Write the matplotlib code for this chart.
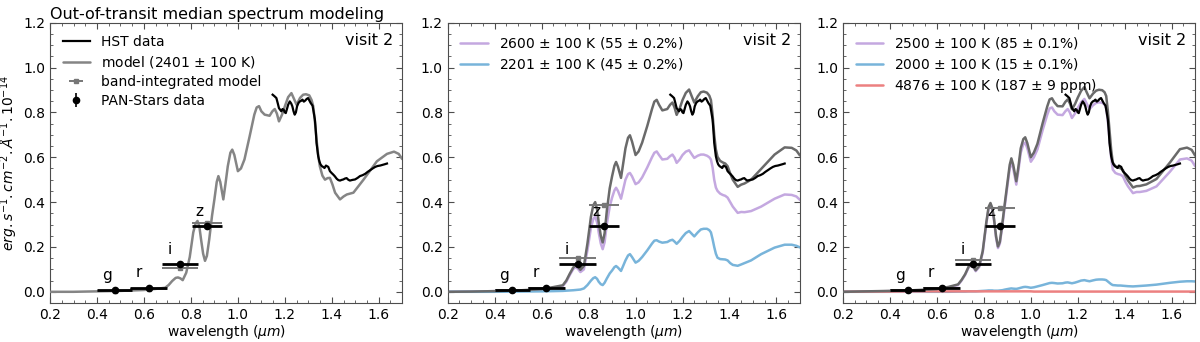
import numpy as np
import matplotlib
matplotlib.use("Agg")
import matplotlib.pyplot as plt
from matplotlib.ticker import MultipleLocator

# wavelength grid of the model spectra (micron)
wave = [0.20, 0.30, 0.40, 0.50, 0.60, 0.65, 0.69, 0.705, 0.72,
        0.735, 0.745, 0.755, 0.765, 0.78, 0.795, 0.81, 0.820, 0.828,
        0.836, 0.843, 0.852, 0.86, 0.868, 0.878, 0.89, 0.90, 0.910,
        0.917, 0.925, 0.938, 0.947, 0.957, 0.968, 0.976, 0.985, 1.00,
        1.013, 1.028, 1.05, 1.07, 1.08, 1.09, 1.10, 1.114, 1.135,
        1.147, 1.157, 1.166, 1.175, 1.188, 1.20, 1.214, 1.228, 1.24,
        1.25, 1.265, 1.278, 1.29, 1.304, 1.314, 1.321, 1.328, 1.335,
        1.342, 1.349, 1.36, 1.371, 1.382, 1.392, 1.403, 1.414, 1.435,
        1.45, 1.464, 1.492, 1.535, 1.592, 1.635, 1.665, 1.685, 1.70]

# panel 1: single temperature model
model_2401 = [0.000, 0.000, 0.002, 0.004, 0.008, 0.013, 0.018, 0.030, 0.048,
              0.062, 0.064, 0.060, 0.052, 0.085, 0.155, 0.265, 0.305, 0.316,
              0.290, 0.235, 0.170, 0.138, 0.160, 0.234, 0.340, 0.412, 0.490,
              0.516, 0.490, 0.412, 0.480, 0.560, 0.620, 0.634, 0.610, 0.538,
              0.550, 0.590, 0.693, 0.790, 0.822, 0.828, 0.805, 0.790, 0.785,
              0.805, 0.815, 0.795, 0.760, 0.790, 0.827, 0.868, 0.886, 0.858,
              0.834, 0.865, 0.879, 0.881, 0.876, 0.855, 0.827, 0.760, 0.679,
              0.610, 0.560, 0.518, 0.500, 0.507, 0.508, 0.478, 0.442, 0.412,
              0.425, 0.434, 0.442, 0.500, 0.582, 0.615, 0.625, 0.615, 0.592]

# panel 2: two components
p2_hot = [0.000, 0.001, 0.003, 0.005, 0.010, 0.018, 0.025, 0.045, 0.075,
          0.102, 0.110, 0.102, 0.088, 0.100, 0.185, 0.285, 0.325, 0.335,
          0.310, 0.265, 0.215, 0.190, 0.220, 0.305, 0.380, 0.420, 0.452,
          0.464, 0.450, 0.415, 0.455, 0.500, 0.525, 0.530, 0.515, 0.480,
          0.488, 0.510, 0.555, 0.600, 0.620, 0.626, 0.610, 0.590, 0.593,
          0.605, 0.612, 0.598, 0.575, 0.590, 0.610, 0.625, 0.631, 0.612,
          0.597, 0.607, 0.612, 0.612, 0.607, 0.600, 0.590, 0.555, 0.500,
          0.465, 0.450, 0.438, 0.432, 0.428, 0.420, 0.400, 0.380, 0.352,
          0.356, 0.355, 0.360, 0.380, 0.415, 0.434, 0.432, 0.425, 0.410]
p2_cool = [0.000, 0.000, 0.000, 0.001, 0.002, 0.003, 0.004, 0.005, 0.006,
           0.007, 0.008, 0.009, 0.010, 0.015, 0.030, 0.050, 0.061, 0.065,
           0.058, 0.045, 0.034, 0.030, 0.040, 0.060, 0.082, 0.095, 0.110,
           0.115, 0.108, 0.093, 0.115, 0.140, 0.162, 0.168, 0.155, 0.130,
           0.138, 0.155, 0.185, 0.215, 0.228, 0.230, 0.224, 0.219, 0.222,
           0.229, 0.232, 0.224, 0.214, 0.228, 0.245, 0.262, 0.271, 0.258,
           0.247, 0.265, 0.278, 0.281, 0.281, 0.275, 0.265, 0.235, 0.200,
           0.170, 0.152, 0.146, 0.145, 0.144, 0.140, 0.128, 0.120, 0.116,
           0.122, 0.128, 0.140, 0.168, 0.197, 0.210, 0.210, 0.205, 0.198]

# panel 3: three components
p3_hot = [0.000, 0.001, 0.003, 0.005, 0.010, 0.020, 0.030, 0.050, 0.075,
          0.108, 0.120, 0.110, 0.092, 0.110, 0.175, 0.300, 0.370, 0.388,
          0.365, 0.320, 0.240, 0.195, 0.215, 0.290, 0.390, 0.470, 0.550,
          0.578, 0.550, 0.478, 0.540, 0.620, 0.658, 0.665, 0.640, 0.580,
          0.600, 0.635, 0.720, 0.790, 0.818, 0.822, 0.805, 0.790, 0.788,
          0.805, 0.815, 0.800, 0.775, 0.795, 0.820, 0.845, 0.860, 0.835,
          0.815, 0.832, 0.842, 0.845, 0.843, 0.835, 0.820, 0.760, 0.680,
          0.600, 0.545, 0.530, 0.525, 0.522, 0.515, 0.490, 0.470, 0.440,
          0.445, 0.445, 0.450, 0.470, 0.535, 0.590, 0.595, 0.585, 0.560]
p3_cool = [0.000, 0.000, 0.000, 0.000, 0.000, 0.000, 0.001, 0.001, 0.001,
           0.002, 0.002, 0.002, 0.002, 0.003, 0.004, 0.005, 0.006, 0.006,
           0.006, 0.005, 0.005, 0.005, 0.006, 0.007, 0.010, 0.012, 0.014,
           0.015, 0.014, 0.013, 0.015, 0.018, 0.021, 0.022, 0.021, 0.018,
           0.020, 0.024, 0.030, 0.036, 0.039, 0.040, 0.039, 0.037, 0.038,
           0.041, 0.042, 0.040, 0.038, 0.041, 0.045, 0.050, 0.052, 0.049,
           0.047, 0.051, 0.054, 0.055, 0.055, 0.054, 0.052, 0.046, 0.040,
           0.034, 0.030, 0.029, 0.028, 0.028, 0.027, 0.026, 0.025, 0.024,
           0.025, 0.026, 0.028, 0.032, 0.040, 0.045, 0.047, 0.047, 0.046]
p3_spot = [0.000, 0.001, 0.001, 0.002, 0.002, 0.002, 0.002, 0.002, 0.002,
           0.002, 0.002, 0.002, 0.002, 0.002, 0.002, 0.002, 0.002, 0.002,
           0.002, 0.002, 0.002, 0.002, 0.002, 0.002, 0.002, 0.002, 0.002,
           0.002, 0.002, 0.002, 0.002, 0.002, 0.002, 0.002, 0.002, 0.002,
           0.001, 0.001, 0.001, 0.001, 0.001, 0.001, 0.001, 0.001, 0.001,
           0.001, 0.001, 0.001, 0.001, 0.001, 0.001, 0.001, 0.001, 0.001,
           0.001, 0.001, 0.001, 0.001, 0.001, 0.001, 0.001, 0.001, 0.001,
           0.001, 0.001, 0.001, 0.001, 0.001, 0.001, 0.001, 0.001, 0.001,
           0.001, 0.001, 0.001, 0.001, 0.001, 0.001, 0.001, 0.001, 0.001]

# HST median out-of-transit spectrum
hst_wave = [1.148, 1.156, 1.164, 1.170, 1.175, 1.180, 1.185, 1.190, 1.195, 1.200,
            1.204, 1.209, 1.214, 1.221, 1.227, 1.232, 1.237, 1.242, 1.247, 1.252,
            1.258, 1.264, 1.270, 1.275, 1.281, 1.287, 1.293, 1.299, 1.305, 1.310,
            1.318, 1.323, 1.328, 1.332, 1.335, 1.339, 1.342, 1.347, 1.352, 1.358,
            1.363, 1.369, 1.375, 1.380, 1.385, 1.392, 1.399, 1.406, 1.413, 1.421,
            1.428, 1.435, 1.442, 1.449, 1.456, 1.463, 1.470, 1.477, 1.488, 1.499,
            1.510, 1.520, 1.531, 1.542, 1.553, 1.563, 1.574, 1.585, 1.595, 1.606,
            1.616, 1.626, 1.635]
hst_flux = [0.879, 0.872, 0.864, 0.840, 0.819, 0.812, 0.805, 0.815, 0.812, 0.800,
            0.797, 0.815, 0.834, 0.849, 0.840, 0.827, 0.805, 0.790, 0.800, 0.827,
            0.842, 0.849, 0.852, 0.857, 0.848, 0.853, 0.860, 0.864, 0.852, 0.842,
            0.830, 0.800, 0.768, 0.715, 0.664, 0.630, 0.605, 0.582, 0.568, 0.560,
            0.557, 0.552, 0.563, 0.560, 0.557, 0.538, 0.530, 0.523, 0.515, 0.504,
            0.498, 0.496, 0.499, 0.501, 0.505, 0.507, 0.500, 0.496, 0.499, 0.501,
            0.508, 0.516, 0.520, 0.526, 0.535, 0.542, 0.550, 0.557, 0.561, 0.563,
            0.566, 0.569, 0.572]

# PAN-STARRS photometry
bands = ["g", "r", "i", "z"]
band_center = [0.475, 0.620, 0.753, 0.867]
band_halfwidth = [0.075, 0.080, 0.077, 0.064]
ps_flux = [0.009, 0.018, 0.123, 0.293]
ps_err = [0.003, 0.003, 0.004, 0.004]
band_label_x = [0.441, 0.576, 0.708, 0.834]
band_label_y = [0.071, 0.087, 0.190, 0.360]

# band-integrated model per panel
bandmodel_p1 = [0.005, 0.012, 0.104, 0.305]
bandmodel_p2 = [0.006, 0.015, 0.151, 0.385]
bandmodel_p3 = [0.006, 0.015, 0.142, 0.375]

GRAY1 = "#858585"
GRAY2 = "#6a6a6a"
PURPLE = "#c4a8e0"
BLUE = "#78b4da"
RED = "#ec8080"
LW = dict(lw=1.8, solid_joinstyle="round", solid_capstyle="round")

fig = plt.figure(figsize=(12, 3.42), dpi=100)
lefts = [0.0417, 0.3731, 0.7025]
axes = [fig.add_axes([l, 0.114, 0.2935, 0.8196]) for l in lefts]


def common(ax, bandmodel):
    ax.plot(hst_wave, hst_flux, color="black", lw=1.6, zorder=5, label="HST data")
    ax.errorbar(band_center, bandmodel, xerr=band_halfwidth, fmt="s", color="#777777",
                ms=3, lw=1.4, capsize=0, zorder=6, label="band-integrated model")
    ax.hlines(ps_flux, np.array(band_center) - np.array(band_halfwidth),
              np.array(band_center) + np.array(band_halfwidth), color="black", lw=2, zorder=7)
    ax.errorbar(band_center, ps_flux, yerr=ps_err, fmt="o", color="black", ms=4.5,
                lw=1.2, capsize=0, zorder=8, label="PAN-Stars data")
    for b, x, y in zip(bands, band_label_x, band_label_y):
        ax.text(x, y, b, ha="center", va="center", fontsize=11)
    ax.text(0.975, 0.965, "visit 2", transform=ax.transAxes, ha="right", va="top", fontsize=11.5)
    ax.set_xlim(0.2, 1.7)
    ax.set_ylim(-0.05, 1.2)
    ax.xaxis.set_major_locator(MultipleLocator(0.2))
    ax.xaxis.set_minor_locator(MultipleLocator(0.05))
    ax.yaxis.set_major_locator(MultipleLocator(0.2))
    ax.yaxis.set_minor_locator(MultipleLocator(0.05))
    ax.tick_params(which="both", direction="in", top=True, right=True, labelsize=10,
                   color="0.3")
    ax.tick_params(which="major", length=4)
    ax.tick_params(which="minor", length=2)
    for s in ax.spines.values():
        s.set_color("0.3")
    ax.set_xlabel(r"wavelength ($\mu m$)", fontsize=10, labelpad=1)


# panel 1
ax = axes[0]
ax.plot(wave, model_2401, color=GRAY1, zorder=3, label="model (2401 $\\pm$ 100 K)", **LW)
common(ax, bandmodel_p1)
h, l = ax.get_legend_handles_labels()
order = [l.index("HST data"), l.index("model (2401 $\\pm$ 100 K)"),
         l.index("band-integrated model"), l.index("PAN-Stars data")]
ax.legend([h[i] for i in order], [l[i] for i in order], loc="upper left", frameon=False,
          fontsize=10, labelspacing=0.35)
ax.set_ylabel(r"$erg.s^{-1}.cm^{-2}.\AA^{-1}.10^{-14}$", fontsize=10, labelpad=2)
ax.set_title("Out-of-transit median spectrum modeling", loc="left", fontsize=11.5, pad=3)

# panel 2
ax = axes[1]
tot2 = np.array(p2_hot) + np.array(p2_cool)
l1, = ax.plot(wave, p2_hot, color=PURPLE, zorder=2, **LW)
l2, = ax.plot(wave, p2_cool, color=BLUE, zorder=2, **LW)
ax.plot(wave, tot2, color=GRAY2, zorder=3, **LW)
common(ax, bandmodel_p2)
ax.legend([l1, l2], ["2600 $\\pm$ 100 K (55 $\\pm$ 0.2%)", "2201 $\\pm$ 100 K (45 $\\pm$ 0.2%)"],
          loc="upper left", frameon=False, fontsize=10, labelspacing=0.35)

# panel 3
ax = axes[2]
tot3 = np.array(p3_hot) + np.array(p3_cool) + np.array(p3_spot)
l1, = ax.plot(wave, p3_hot, color=PURPLE, zorder=2, **LW)
l2, = ax.plot(wave, p3_cool, color=BLUE, zorder=2, **LW)
l3, = ax.plot(wave, p3_spot, color=RED, zorder=2, **LW)
ax.plot(wave, tot3, color=GRAY2, zorder=3, **LW)
common(ax, bandmodel_p3)
ax.legend([l1, l2, l3], ["2500 $\\pm$ 100 K (85 $\\pm$ 0.1%)", "2000 $\\pm$ 100 K (15 $\\pm$ 0.1%)",
                         "4876 $\\pm$ 100 K (187 $\\pm$ 9 ppm)"],
          loc="upper left", frameon=False, fontsize=10, labelspacing=0.35)

fig.savefig("out.png", dpi=100)
